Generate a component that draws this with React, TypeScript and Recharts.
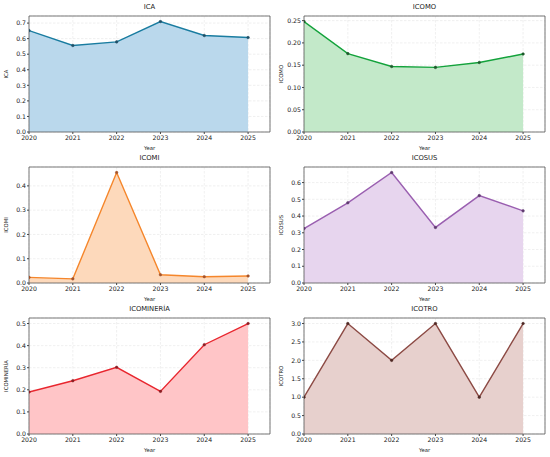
import {
  Area,
  AreaChart,
  CartesianGrid,
  ReferenceArea,
  XAxis,
  YAxis,
} from "recharts";

const years = [2020, 2021, 2022, 2023, 2024, 2025];

const ica = [0.652, 0.556, 0.579, 0.71, 0.62, 0.607];
const icomo = [0.248, 0.176, 0.147, 0.145, 0.156, 0.175];
const icomi = [0.023, 0.017, 0.455, 0.034, 0.026, 0.029];
const icosus = [0.325, 0.479, 0.66, 0.332, 0.522, 0.431];
const icomineria = [0.19, 0.241, 0.302, 0.193, 0.404, 0.5];
const icotro = [1, 3, 2, 3, 1, 3];

const icaTicks = [0, 0.1, 0.2, 0.3, 0.4, 0.5, 0.6, 0.7];
const icomoTicks = [0, 0.05, 0.1, 0.15, 0.2, 0.25];
const icomiTicks = [0, 0.1, 0.2, 0.3, 0.4];
const icosusTicks = [0, 0.1, 0.2, 0.3, 0.4, 0.5, 0.6];
const icomineriaTicks = [0, 0.1, 0.2, 0.3, 0.4, 0.5];
const icotroTicks = [0, 0.5, 1, 1.5, 2, 2.5, 3];

const font = "'DejaVu Sans', sans-serif";
const W = 275;
const H = 151;
const margin = { top: 16, right: 5, left: 0, bottom: 0 };

interface Panel {
  name: string;
  values: number[];
  ticks: number[];
  digits: number;
  line: string;
  fill: string;
  dot: string;
}

const panels: Panel[] = [
  { name: "ICA", values: ica, ticks: icaTicks, digits: 1, line: "#197ca0", fill: "#bad8ec", dot: "#1e4f66" },
  { name: "ICOMO", values: icomo, ticks: icomoTicks, digits: 2, line: "#13a23b", fill: "#c3e9c9", dot: "#1d5a2b" },
  { name: "ICOMI", values: icomi, ticks: icomiTicks, digits: 1, line: "#f5862b", fill: "#fdd9bb", dot: "#a2522a" },
  { name: "ICOSUS", values: icosus, ticks: icosusTicks, digits: 1, line: "#9a5fb0", fill: "#e7d5ee", dot: "#5e3a6e" },
  { name: "ICOMINERÍA", values: icomineria, ticks: icomineriaTicks, digits: 1, line: "#e8262e", fill: "#ffc5c7", dot: "#8a1f24" },
  { name: "ICOTRO", values: icotro, ticks: icotroTicks, digits: 1, line: "#8c4a44", fill: "#e7d0cd", dot: "#4e2824" },
];

const tick = { fill: "#222", fontSize: 6.2, fontFamily: font };

function SmallChart({ panel }: { panel: Panel }) {
  const data = years.map((year, i) => ({ year, value: panel.values[i] }));
  const top = Math.max(...panel.values) * 1.05;

  return (
    <div style={{ position: "relative", width: W, height: H }}>
      <div
        style={{
          position: "absolute",
          left: 29,
          width: 241,
          top: 3,
          textAlign: "center",
          fontFamily: font,
          fontSize: 6.8,
          color: "#222",
        }}
      >
        {panel.name}
      </div>
      <AreaChart width={W} height={H} data={data} margin={margin}>
        <CartesianGrid stroke="#e6e6e6" strokeDasharray="2.5 1.5" strokeWidth={0.6} />
        <XAxis
          dataKey="year"
          type="number"
          domain={[2020, 2025.5]}
          ticks={years}
          interval={0}
          allowDataOverflow
          height={19}
          tick={tick}
          tickSize={2}
          tickMargin={2}
          stroke="#444"
          axisLine={false}
          label={{
            value: "Year",
            position: "insideBottom",
            offset: 1,
            fontSize: 5.3,
            fontFamily: font,
            fill: "#222",
          }}
        />
        <YAxis
          type="number"
          domain={[0, top]}
          ticks={panel.ticks}
          interval={0}
          allowDataOverflow
          width={29}
          tick={tick}
          tickSize={2}
          tickMargin={1}
          stroke="#444"
          axisLine={false}
          tickFormatter={(v: number) => v.toFixed(panel.digits)}
          label={{
            value: panel.name,
            angle: -90,
            position: "insideLeft",
            offset: 6,
            style: { textAnchor: "middle" },
            fontSize: 5.3,
            fontFamily: font,
            fill: "#222",
          }}
        />
        <Area
          type="linear"
          dataKey="value"
          stroke={panel.line}
          strokeWidth={1.4}
          fill={panel.fill}
          fillOpacity={1}
          dot={{ r: 1.3, fill: panel.dot, stroke: panel.dot, strokeWidth: 0.5 }}
          activeDot={false}
          isAnimationActive={false}
        />
        <ReferenceArea
          x1={2020}
          x2={2025.5}
          y1={0}
          y2={top}
          fill="none"
          stroke="#555"
          strokeWidth={0.8}
          ifOverflow="visible"
        />
      </AreaChart>
    </div>
  );
}

export default function App() {
  return (
    <div
      style={{
        position: "absolute",
        left: 0,
        top: 0,
        width: 550,
        height: 457,
        background: "#fff",
        display: "grid",
        gridTemplateColumns: `${W}px ${W}px`,
        gridAutoRows: `${H}px`,
      }}
    >
      {panels.map((p) => (
        <SmallChart key={p.name} panel={p} />
      ))}
    </div>
  );
}
